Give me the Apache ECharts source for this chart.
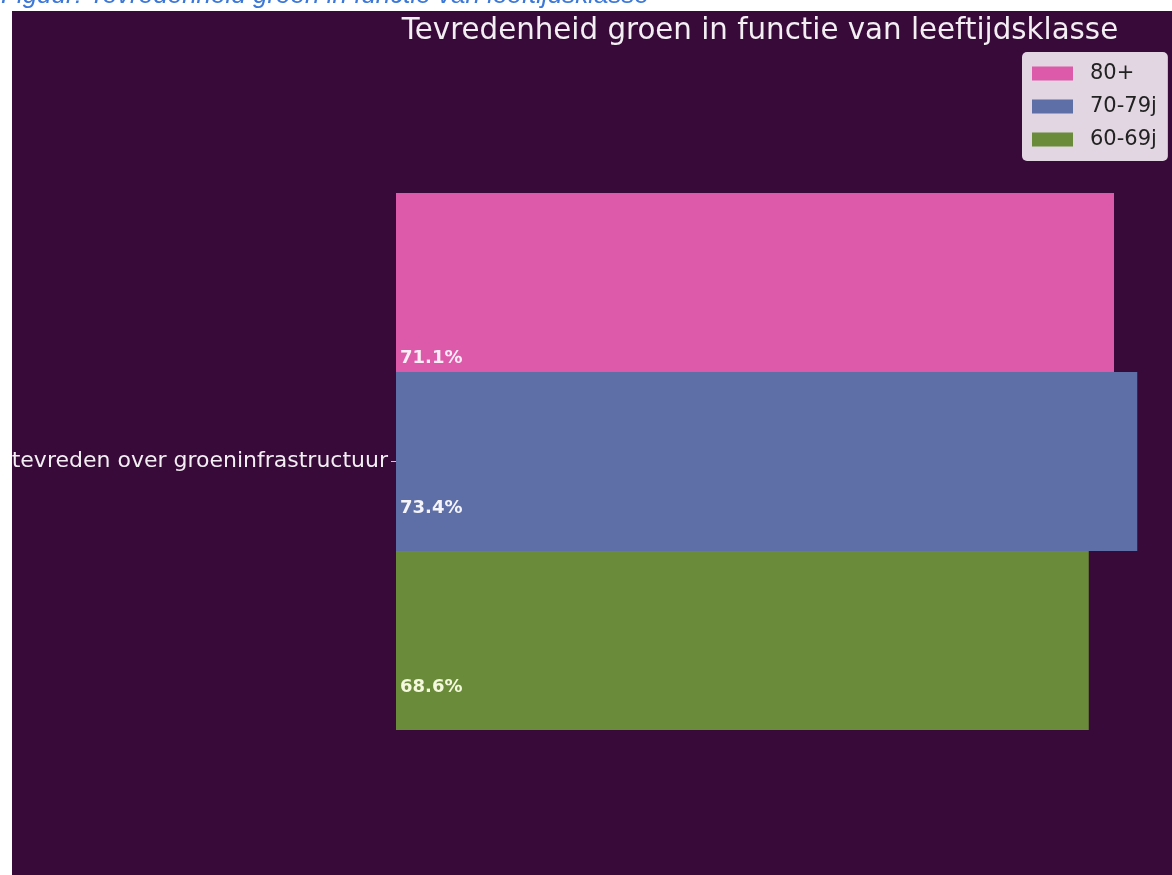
<!DOCTYPE html>
<html>
<head>
<meta charset="utf-8">
<script src="https://cdn.jsdelivr.net/npm/echarts@6/dist/echarts.min.js"></script>
<style>
html,body{margin:0;padding:0;background:#ffffff;}
#c{width:1172px;height:875px;}
</style>
</head>
<body>
<div id="c"></div>
<script>
var categories = ['tevreden over groeninfrastructuur'];
var seriesNames = ['80+', '70-79j', '60-69j'];
var values80 = [71.1];
var values7079 = [73.4];
var values6069 = [68.6];
var legendOrder = ['80+', '70-79j', '60-69j'];
var titleText = 'Tevredenheid groen in functie van leeftijdsklasse';
var captionText = 'Figuur: Tevredenheid groen in functie van leeftijdsklasse';

var chart = echarts.init(document.getElementById('c'), null, {renderer: 'canvas'});
var font = 'DejaVu Sans';
function mkSeries(name, data, color, offY, labelColor) {
  return {
    name: name, type: 'bar', data: data,
    barWidth: 179, barGap: '0%',
    itemStyle: {color: color},
    label: {
      show: true, position: 'insideLeft', distance: 4, offset: [0, offY],
      formatter: function (p) { return p.value.toFixed(1) + '%'; },
      color: labelColor, fontFamily: font, fontWeight: 'bold', fontSize: 18
    },
    emphasis: {disabled: true}
  };
}
chart.setOption({
  animation: false,
  backgroundColor: '#ffffff',
  graphic: [
    {type: 'rect', z: -10, shape: {x: 12, y: 11, width: 1160, height: 864}, style: {fill: '#380a3a'}},
    {type: 'text', x: 1, y: 9, z: 10, style: {text: captionText, fill: '#3b78d8', verticalAlign: 'bottom', font: 'italic 26px "Liberation Sans"'}}
  ],
  title: {
    text: titleText, left: 755, top: 12, textAlign: 'center',
    textStyle: {color: '#f2eef2', fontFamily: font, fontSize: 29.3, fontWeight: 'normal'}
  },
  legend: {
    data: legendOrder, orient: 'vertical', left: 1022, top: 52,
    backgroundColor: 'rgba(234,226,234,0.95)', borderRadius: 5,
    padding: [11, 11, 11, 10], itemWidth: 41, itemHeight: 14, itemGap: 12,
    icon: 'rect',
    textStyle: {color: '#222222', fontFamily: font, fontSize: 21, padding: [0, 0, 0, 12]}
  },
  grid: {left: 396, right: 8.5, top: 48, bottom: 0, containLabel: false},
  xAxis: {
    type: 'value', min: 0, max: 76, show: false
  },
  yAxis: {
    type: 'category', data: categories,
    axisLine: {show: false},
    axisTick: {show: true, alignWithLabel: true, length: 5, lineStyle: {color: '#cccccc'}},
    axisLabel: {color: '#f2eef2', fontFamily: font, fontSize: 22, margin: 8},
    splitLine: {show: false}
  },
  series: [
    mkSeries(seriesNames[0], values80, '#dd5aaa', 75.5, '#fbecf6'),
    mkSeries(seriesNames[1], values7079, '#5e6ea6', 47, '#f4f4fa'),
    mkSeries(seriesNames[2], values6069, '#6a8b3a', 47, '#f4f8dc')
  ]
});
</script>
</body>
</html>
